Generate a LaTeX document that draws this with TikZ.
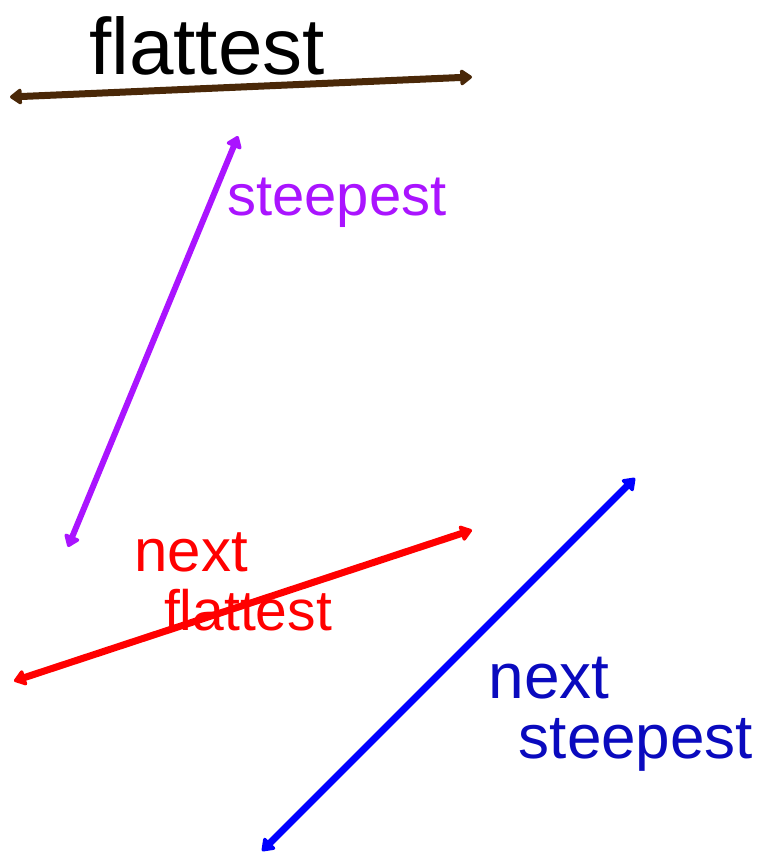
\documentclass[tikz,border=0pt]{standalone}
\usepackage{fontspec}
\setmainfont{Liberation Sans}
\usetikzlibrary{arrows.meta}
\definecolor{brownline}{RGB}{74,40,8}
\definecolor{purpleline}{RGB}{170,20,255}
\definecolor{navytext}{RGB}{10,10,190}
\tikzset{
  dblarrow/.style={line width=7pt, {Triangle[round,length=13pt,width=18pt]}-{Triangle[round,length=13pt,width=18pt]}},
  hand/.style={inner sep=0pt, anchor=center},
}
\newcommand{\fs}[1]{\fontsize{#1}{#1}\selectfont}
\begin{document}
\begin{tikzpicture}[x=1pt,y=-1pt]
\useasboundingbox (0,0) rectangle (763,856);
% coordinates
\coordinate (bA) at (10,97);   \coordinate (bB) at (472,77);
\coordinate (pA) at (238,136); \coordinate (pB) at (68,547);
\coordinate (rA) at (14,681);  \coordinate (rB) at (472,530);
\coordinate (uA) at (262,851); \coordinate (uB) at (635,478);
% arrows
\draw[dblarrow, brownline] (bA) -- (bB);
\draw[dblarrow, purpleline, line width=6pt] (pA) -- (pB);
\draw[dblarrow, red] (rA) -- (rB);
\draw[dblarrow, blue] (uA) -- (uB);
% labels
\node[hand] (t1) at (207,46) {\fs{80}flattest};
\node[hand, text=purpleline] (t2) at (337,203) {\fs{58}steepest};
\node[hand, text=red] (t3) at (191,552) {\fs{60}next};
\node[hand, text=red] (t4) at (248,610) {\fs{57}flattest};
\node[hand, text=navytext] (t5) at (549,678) {\fs{64}next};
\node[hand, text=navytext] (t6) at (636,745) {\fs{62}steepest};
\end{tikzpicture}
\end{document}
